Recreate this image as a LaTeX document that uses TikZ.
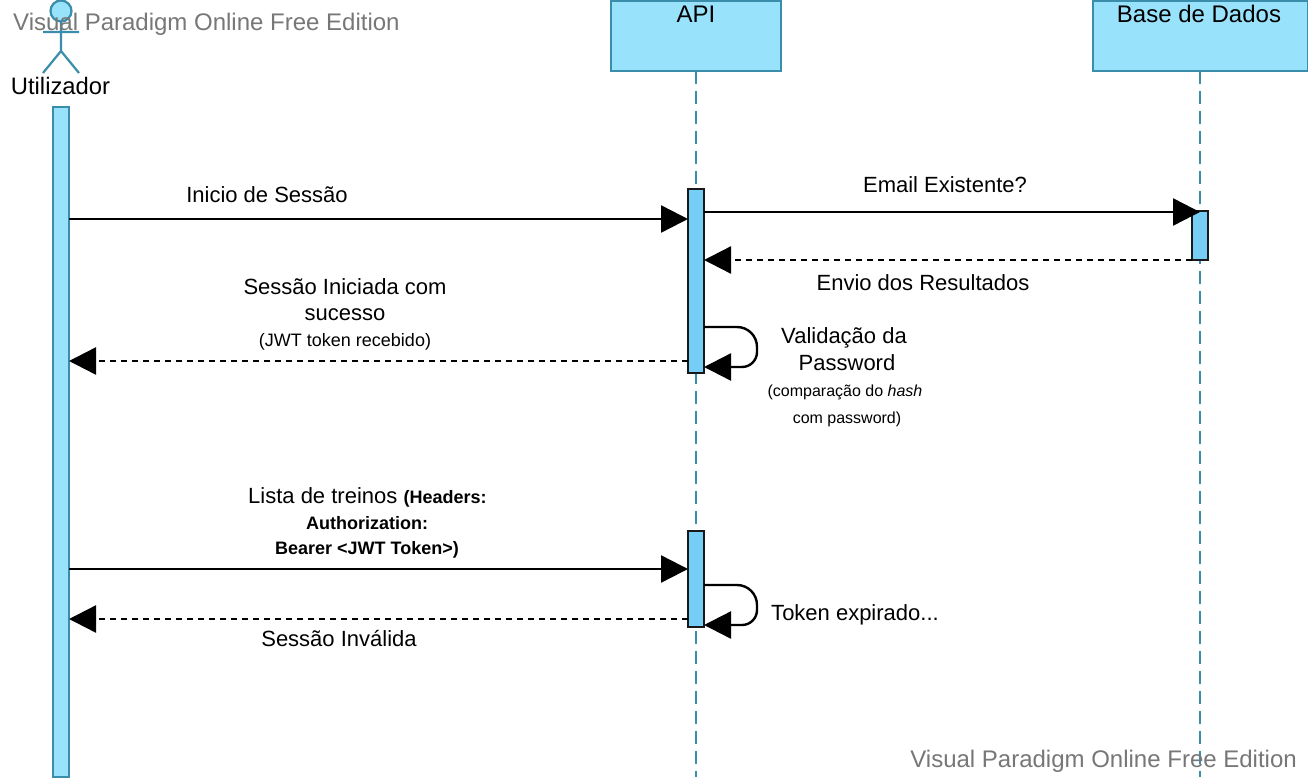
\documentclass[tikz,border=0pt]{standalone}
\usepackage{fontspec}
\setmainfont{Liberation Sans}
\usetikzlibrary{arrows.meta}
\definecolor{teal1}{HTML}{3A8DAB}
\definecolor{fillA}{HTML}{99E2FB}
\definecolor{fillB}{HTML}{76CEF6}
\definecolor{wm}{HTML}{777777}
\tikzset{
  x=1pt,y=-1pt,
  head/.style={draw=teal1,fill=fillA,line width=2.4pt,rectangle,inner sep=0pt,outer sep=0pt,anchor=north west},
  bar/.style={draw=black!90,fill=fillB,line width=2.2pt,rectangle,inner sep=0pt,outer sep=0pt,anchor=north west,minimum width=16pt},
  life/.style={draw=teal1,line width=2.2pt,dash pattern=on 13pt off 7pt},
  msg/.style={draw=black,line width=2.4pt,-{Triangle[length=27pt,width=27pt]}},
  ret/.style={msg,dash pattern=on 6pt off 5pt},
  txt/.style={font=\fontsize{22}{26}\selectfont,align=center,inner sep=0pt,text=black},
  small/.style={font=\fontsize{18}{26}\selectfont,align=center,inner sep=0pt,text=black},
  wmark/.style={font=\fontsize{24}{28}\selectfont,text=wm,inner sep=0pt},
}
\begin{document}
\begin{tikzpicture}
\useasboundingbox[fill=white] (0,0) rectangle (1308,778);
% lifelines heads
\node[head,minimum width=170pt,minimum height=70pt] (api) at (611,1) {};
\node[head,minimum width=215pt,minimum height=70pt] (db) at (1093,1) {};
\node[txt,font=\fontsize{24}{26}\selectfont] (apil) at (696,14) {API};
\node[txt,font=\fontsize{24}{26}\selectfont] (dbl) at (1199,14) {Base de Dados};
\coordinate (apiEnd) at (696,777);
\coordinate (dbEnd) at (1200,777);
\draw[life] (api.south) -- (apiEnd);
\draw[life] (db.south -| dbEnd) -- (dbEnd);
% actor
\node[draw=teal1,fill=fillA,line width=2.2pt,circle,minimum size=21pt,inner sep=0pt,outer sep=0pt] (ahead) at (61,11) {};
\coordinate (hip) at (61,51);
\coordinate (armL) at (43,32);
\coordinate (armR) at (79,32);
\coordinate (legL) at (43,73);
\coordinate (legR) at (79,73);
\draw[teal1,line width=2.2pt] (ahead.south) -- (hip) (armL) -- (armR) (legL) -- (hip) -- (legR);
\node[txt,font=\fontsize{23.8}{26}\selectfont] (autl) at (60.5,86) {Utilizador};
% bars
\node[head,minimum width=16pt,minimum height=670pt] (barU) at (53,107) {};
\node[bar,minimum height=184pt] (barA) at (688,189) {};
\node[bar,minimum height=49pt] (barD) at (1192,211) {};
\node[bar,minimum height=96pt] (barB) at (688,531) {};
% messages
\draw[msg] (barU.east |- 0,219) -- (barA.west |- 0,219);
\coordinate (dbTip) at (1200,212);
\draw[msg] (barA.east |- dbTip) -- (dbTip);
\draw[ret] (barD.west |- 0,260) -- (barA.east |- 0,260);
\draw[ret] (barA.west |- 0,361) -- (barU.east |- 0,361);
\draw[msg] (barA.east |- 0,327) -- (737,327) to[out=0,in=90] (757,347) -- (757,352) to[out=-90,in=0] (742,367) -- (barA.east |- 0,367);
\draw[msg] (barU.east |- 0,569) -- (barB.west |- 0,569);
\draw[ret] (barB.west |- 0,619) -- (barU.east |- 0,619);
\draw[msg] (barB.east |- 0,585) -- (737,585) to[out=0,in=90] (757,605) -- (757,610) to[out=-90,in=0] (742,625) -- (barB.east |- 0,625);
% labels
\node[txt] (t1) at (267,194.5) {Inicio de Sessão};
\node[txt] (t2) at (945,185) {Email Existente?};
\node[txt] (t3) at (923,283) {Envio dos Resultados};
\node[txt] (t4) at (345,287) {Sessão Iniciada com};
\node[txt] (t4b) at (345,315) {sucesso};
\node[small] (t4c) at (345,342) {(JWT token recebido)};
\node[txt] (t5) at (844,338) {Validação da};
\node[txt] (t5b) at (847,363) {Password};
\node[small,font=\fontsize{16}{20}\selectfont] (t5c) at (845,392) {(comparação do \textit{hash}};
\node[small,font=\fontsize{16}{20}\selectfont] (t5d) at (847,419) {com password)};
\node[txt,anchor=base west] (t6) at (248,503) {Lista de treinos \fontsize{18}{20}\selectfont\textbf{(Headers:}};
\node[small] (t6b) at (367,523) {\textbf{Authorization:}};
\node[small] (t6c) at (367,550) {\textbf{Bearer <JWT Token>)}};
\node[txt] (t7) at (855,615) {Token expirado...};
\node[txt] (t8) at (339,639) {Sessão Inválida};
% watermark
\node[wmark,anchor=base west] (w1) at (13,31) {Visual Paradigm Online Free Edition};
\node[wmark,anchor=base east] (w2) at (1297,767) {Visual Paradigm Online Free Edition};
\end{tikzpicture}
\end{document}
